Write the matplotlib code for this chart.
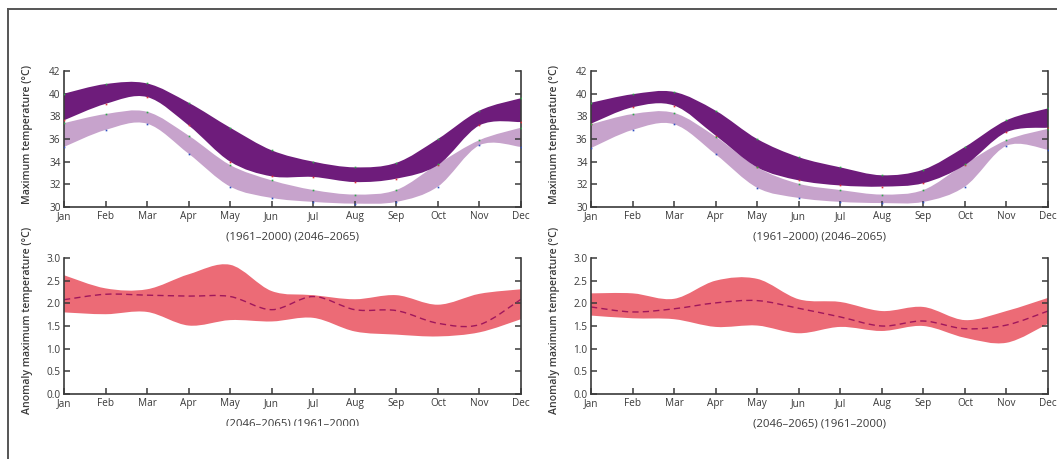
import numpy as np
import matplotlib
matplotlib.use("Agg")
import matplotlib.pyplot as plt
from matplotlib.path import Path
from matplotlib.patches import PathPatch, Rectangle
from matplotlib.lines import Line2D

plt.rcParams['font.family'] = ['Open Sans', 'DejaVu Sans']

months = ['Jan', 'Feb', 'Mar', 'Apr', 'May', 'Jun', 'Jul', 'Aug', 'Sep', 'Oct', 'Nov', 'Dec']

# ---- Left panels ----
L_fut_hi = [40.0, 40.85, 40.9, 39.2, 37.0, 35.0, 34.0, 33.5, 33.9, 36.0, 38.5, 39.6]
L_fut_lo = [37.65, 39.1, 39.7, 37.2, 34.0, 32.7, 32.65, 32.2, 32.5, 33.7, 37.2, 37.5]
L_his_hi = [37.4, 38.2, 38.4, 36.3, 33.7, 32.35, 31.5, 31.1, 31.5, 33.8, 35.9, 37.0]
L_his_lo = [35.3, 36.8, 37.35, 34.7, 31.8, 30.8, 30.45, 30.3, 30.45, 31.8, 35.45, 35.3]
L_ano_hi = [2.62, 2.33, 2.31, 2.64, 2.85, 2.27, 2.18, 2.09, 2.18, 1.97, 2.21, 2.31]
L_ano_lo = [1.80, 1.76, 1.81, 1.51, 1.63, 1.60, 1.68, 1.38, 1.31, 1.27, 1.36, 1.65]
L_ano_mean = [2.08, 2.20, 2.18, 2.16, 2.15, 1.86, 2.15, 1.86, 1.84, 1.56, 1.53, 2.09]

# ---- Right panels ----
R_fut_hi = [39.2, 39.95, 40.15, 38.5, 36.0, 34.4, 33.5, 32.8, 33.3, 35.3, 37.65, 38.7]
R_fut_lo = [37.35, 38.8, 38.95, 36.3, 33.5, 32.35, 31.9, 31.8, 32.1, 33.7, 36.6, 37.0]
R_his_hi = [37.3, 38.2, 38.3, 36.2, 33.5, 32.05, 31.5, 31.1, 31.5, 33.8, 35.9, 36.9]
R_his_lo = [35.2, 36.8, 37.3, 34.65, 31.7, 30.8, 30.45, 30.35, 30.45, 31.8, 35.4, 35.05]
R_ano_hi = [2.22, 2.22, 2.10, 2.50, 2.54, 2.09, 2.03, 1.83, 1.92, 1.63, 1.83, 2.12]
R_ano_lo = [1.73, 1.67, 1.65, 1.48, 1.51, 1.34, 1.48, 1.39, 1.50, 1.24, 1.13, 1.55]
R_ano_mean = [1.92, 1.81, 1.88, 2.01, 2.06, 1.89, 1.70, 1.50, 1.61, 1.44, 1.52, 1.83]

top_label = '(1961\u20132000) (2046\u20132065)'
bot_label = '(2046\u20132065) (1961\u20132000)'
ylab_top = 'Maximum temperature (\u00b0C)'
ylab_bot = 'Anomaly maximum temperature (\u00b0C)'

C_DARK = '#6e1c7b'
C_LIGHT = '#c7a3cc'
C_RED = '#ec6b76'
C_MEAN = '#a0175c'
C_TXT = '#3a3a3a'
C_SPINE = '#3a3a3a'


def smooth_segments(xs, ys):
    """Cubic Bezier (Catmull-Rom) control points through the data points."""
    x = np.asarray(xs, float)
    y = np.asarray(ys, float)
    n = len(x)
    verts = []
    for i in range(n - 1):
        i0 = max(i - 1, 0)
        i3 = min(i + 2, n - 1)
        c1 = (x[i] + (x[i + 1] - x[i0]) / 6, y[i] + (y[i + 1] - y[i0]) / 6)
        c2 = (x[i + 1] - (x[i3] - x[i]) / 6, y[i + 1] - (y[i3] - y[i]) / 6)
        verts += [c1, c2, (x[i + 1], y[i + 1])]
    return verts


def band_path(xs, hi, lo):
    verts = [(xs[0], hi[0])] + smooth_segments(xs, hi)
    codes = [Path.MOVETO] + [Path.CURVE4] * (len(verts) - 1)
    verts.append((xs[-1], lo[-1]))
    codes.append(Path.LINETO)
    back = smooth_segments(xs[::-1], lo[::-1])
    verts += back
    codes += [Path.CURVE4] * len(back)
    verts.append((xs[0], hi[0]))
    codes.append(Path.CLOSEPOLY)
    return Path(verts, codes)


def line_path(xs, ys):
    verts = [(xs[0], ys[0])] + smooth_segments(xs, ys)
    codes = [Path.MOVETO] + [Path.CURVE4] * (len(verts) - 1)
    return Path(verts, codes)


def style_axes(ax, ylim, yticks, fmt):
    ax.set_xlim(0, len(months) - 1)
    ax.set_ylim(*ylim)
    ax.set_xticks(range(len(months)))
    ax.set_xticklabels(months)
    ax.set_yticks(yticks)
    ax.set_yticklabels([fmt.format(v) for v in yticks])
    ax.spines['top'].set_visible(False)
    for s in ['left', 'right', 'bottom']:
        ax.spines[s].set_color(C_SPINE)
        ax.spines[s].set_linewidth(1.2)
    ax.tick_params(axis='both', direction='in', length=4, width=1.1,
                   color=C_SPINE, labelsize=7.2, labelcolor=C_TXT)
    ax.tick_params(axis='x', pad=3)
    ax.tick_params(axis='y', pad=2.5, right=True)
    ax.set_facecolor('none')


fig = plt.figure(figsize=(10.57, 4.59), dpi=100)

W, H = 1057, 459
panels = [
    (64, 521, L_fut_hi, L_fut_lo, L_his_hi, L_his_lo, L_ano_hi, L_ano_lo, L_ano_mean),
    (591, 1048, R_fut_hi, R_fut_lo, R_his_hi, R_his_lo, R_ano_hi, R_ano_lo, R_ano_mean),
]
xs = np.arange(len(months), dtype=float)

bottom_axes = []
for (x0, x1, fh, fl, hh, hl, ah, al, am) in panels:
    axt = fig.add_axes([x0 / W, 1 - 207 / H, (x1 - x0) / W, (207 - 71) / H])
    axb = fig.add_axes([x0 / W, 1 - 394 / H, (x1 - x0) / W, (394 - 258) / H])

    axt.add_patch(PathPatch(band_path(xs, hh, hl), facecolor=C_LIGHT,
                            edgecolor='none', zorder=1))
    axt.add_patch(PathPatch(band_path(xs, fh, fl), facecolor=C_DARK,
                            edgecolor='none', zorder=2))
    axt.plot(xs, fh, ls='none', marker='s', ms=1.2, mew=0, color='#2ea84a', zorder=3)
    axt.plot(xs, fl, ls='none', marker='s', ms=1.2, mew=0, color='#e0303a', zorder=3)
    axt.plot(xs, hh, ls='none', marker='s', ms=1.2, mew=0, color='#2ea84a', zorder=3)
    axt.plot(xs, hl, ls='none', marker='s', ms=1.2, mew=0, color='#3050c0', zorder=3)
    style_axes(axt, (30, 42), [30, 32, 34, 36, 38, 40, 42], '{:.0f}')
    axt.set_xlabel(top_label, fontsize=8.2, color=C_TXT, labelpad=7)
    axt.set_ylabel(ylab_top, fontsize=7.6, color=C_TXT, fontweight='semibold')
    axt.yaxis.set_label_coords(-0.068, 0.53)

    axb.add_patch(PathPatch(band_path(xs, ah, al), facecolor=C_RED,
                            edgecolor='none', zorder=1))
    axb.add_patch(PathPatch(line_path(xs, am), facecolor='none', edgecolor=C_MEAN,
                            linewidth=1.0, linestyle=(0, (4.5, 3)), zorder=2))
    style_axes(axb, (0, 3), [0.0, 0.5, 1.0, 1.5, 2.0, 2.5, 3.0], '{:.1f}')
    axb.set_xlabel(bot_label, fontsize=8.2, color=C_TXT, labelpad=7)
    axb.set_ylabel(ylab_bot, fontsize=7.6, color=C_TXT, fontweight='semibold')
    axb.yaxis.set_label_coords(-0.068, 0.54)
    bottom_axes.append(axb)

# left lower caption is cut off at the bottom in the reference
lbl = bottom_axes[0].xaxis.label
lbl.set_clip_on(True)
lbl.set_clip_path(Rectangle((0, 1 - 426 / H), 1, 426 / H, transform=fig.transFigure))

# outer frame (top and left edges)
fig.add_artist(Line2D([8 / W, 8 / W], [0, 1 - 9 / H], transform=fig.transFigure,
                      color='#555555', linewidth=1.4))
fig.add_artist(Line2D([8 / W, 1], [1 - 9 / H, 1 - 9 / H], transform=fig.transFigure,
                      color='#555555', linewidth=1.4))

fig.savefig('out.png', dpi=100)
